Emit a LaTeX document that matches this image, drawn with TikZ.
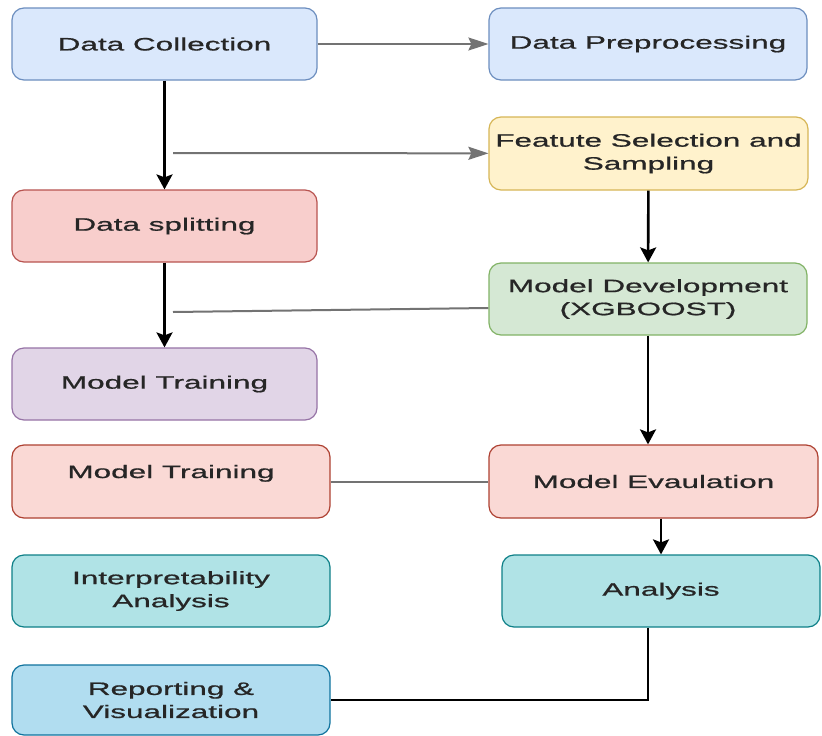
\documentclass[tikz,border=0pt]{standalone}
\usepackage{fontspec}
\setmainfont{Liberation Sans}[FakeStretch=1.75,FakeBold=0.8]
\usepackage{tikz}
\usetikzlibrary{arrows.meta}

\definecolor{blueFill}{HTML}{DAE8FC}\definecolor{blueLine}{HTML}{6C8EBF}
\definecolor{yelFill}{HTML}{FFF2CC}\definecolor{yelLine}{HTML}{D6B656}
\definecolor{redFill}{HTML}{F8CECC}\definecolor{redLine}{HTML}{B85450}
\definecolor{grnFill}{HTML}{D5E8D4}\definecolor{grnLine}{HTML}{82B366}
\definecolor{purFill}{HTML}{E1D5E7}\definecolor{purLine}{HTML}{9673A6}
\definecolor{salFill}{HTML}{FAD9D5}\definecolor{salLine}{HTML}{AE4132}
\definecolor{tealFill}{HTML}{B0E3E6}\definecolor{tealLine}{HTML}{0E8088}
\definecolor{skyFill}{HTML}{B1DDF0}\definecolor{skyLine}{HTML}{10739E}

\begin{document}
\begin{tikzpicture}[x=1pt,y=-1pt,
	box/.style={rounded corners=12pt, line width=1.2pt, align=center, inner sep=0pt,
		font=\fontsize{18}{23}\selectfont, text=black!85},
	vline/.style={line width=2.6pt, black},
	hline/.style={line width=2pt, black!55},
	varrow/.style={vline, -{Stealth[length=15pt,width=16pt,inset=3pt]}},
	harrow/.style={hline, -{Stealth[length=20pt,width=13pt,inset=3pt]}}]
	\fill [white] (0,0) rectangle (822,736);
	\useasboundingbox (0,0) rectangle (822,736);

	% left column
	\node [box,fill=blueFill,draw=blueLine,minimum width=305pt,minimum height=72pt] (coll) at (164.5,44) {Data Collection};
	\node [box,fill=redFill,draw=redLine,minimum width=305pt,minimum height=72pt] (split) at (164.5,226) {Data splitting};
	\node [box,fill=purFill,draw=purLine,minimum width=305pt,minimum height=72pt] (train) at (164.5,384) {Model Training};
	\node [box,fill=salFill,draw=salLine,minimum width=318pt,minimum height=73pt] (trainb) at (171,481.5) {\raisebox{20pt}{Model Training}};
	\node [box,fill=tealFill,draw=tealLine,minimum width=318pt,minimum height=72pt] (interp) at (171,591) {Interpretability\\Analysis};
	\node [box,fill=skyFill,draw=skyLine,minimum width=318pt,minimum height=70pt] (report) at (171,700) {Reporting \&\\Visualization};

	% right column
	\node [box,fill=blueFill,draw=blueLine,minimum width=318pt,minimum height=72pt] (prep) at (648,44) {Data Preprocessing};
	\node [box,fill=yelFill,draw=yelLine,minimum width=319pt,minimum height=73pt] (feat) at (648.5,153.5) {Featute Selection and\\Sampling};
	\node [box,fill=grnFill,draw=grnLine,minimum width=318pt,minimum height=72pt] (dev) at (648,299) {Model Development\\(XGBOOST)};
	\node [box,fill=salFill,draw=salLine,minimum width=329pt,minimum height=73pt] (eval) at (653.5,481.5) {Model Evaulation};
	\node [box,fill=tealFill,draw=tealLine,minimum width=318pt,minimum height=72pt] (anal) at (661,591) {Analysis};

	\coordinate (fork) at (173,153);
	\coordinate (join) at (173,312);

	% connectors
	\draw [harrow] (coll) -- (prep);
	\draw [varrow] (coll) -- (split);
	\draw [harrow] (fork) -- (feat);
	\draw [varrow] (feat) -- (dev);
	\draw [varrow] (split) -- (train);
	\draw [hline] ([yshift=-9pt]dev.west) -- (join);
	\draw [varrow] (dev.south) -- (dev.south |- eval.north);
	\draw [hline] (trainb) -- (eval);
	\draw [varrow] (anal.north |- eval.south) -- (anal.north);
	\draw [vline,line width=2pt] ([xshift=-13pt]anal.south) |- (report.east);
\end{tikzpicture}
\end{document}
